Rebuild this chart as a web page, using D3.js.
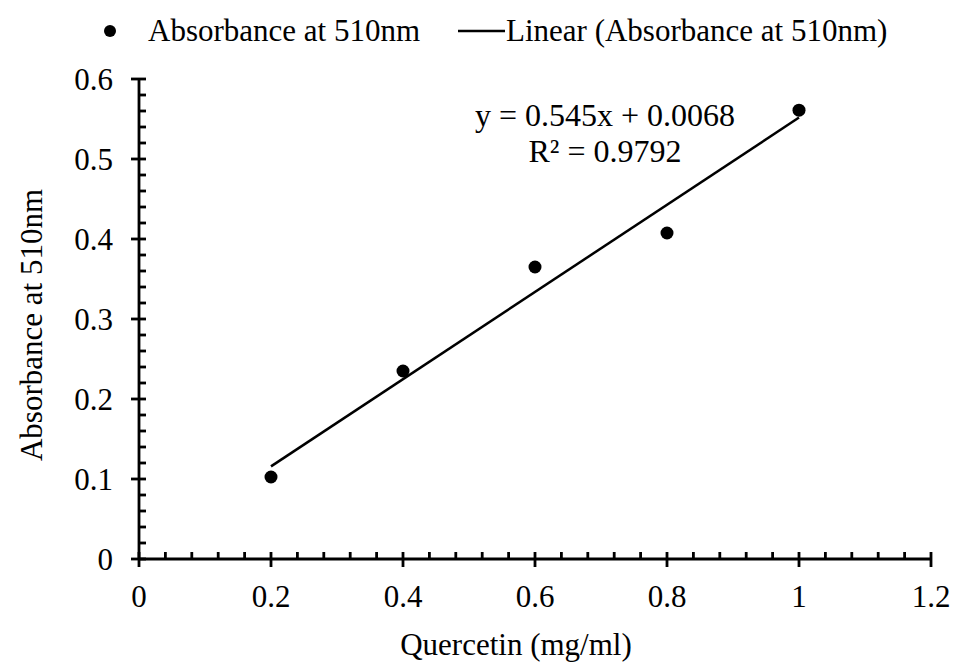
<!DOCTYPE html>
<html>
<head>
<meta charset="utf-8">
<script src="https://cdn.jsdelivr.net/npm/d3@7"></script>
<style>
  body { margin: 0; background: #fff; }
  svg text { font-family: "Liberation Serif", "Times New Roman", serif; fill: #000; }
</style>
</head>
<body>
<div id="chart"></div>
<script>
  const concentration = [0.2, 0.4, 0.6, 0.8, 1.0];
  const absorbance = [0.1025, 0.235, 0.365, 0.4075, 0.561];
  const xTicks = [0, 0.2, 0.4, 0.6, 0.8, 1, 1.2];
  const yTicks = [0, 0.1, 0.2, 0.3, 0.4, 0.5, 0.6];
  const slope = 0.545, intercept = 0.0068;
  const equationLines = ["y = 0.545x + 0.0068", "R² = 0.9792"];

  const width = 957, height = 664;
  const margin = { top: 79, right: 26, bottom: 105, left: 139 };

  const svg = d3.select("#chart").append("svg")
    .attr("width", width)
    .attr("height", height);

  const x = d3.scaleLinear().domain([0, 1.2]).range([margin.left, width - margin.right]);
  const y = d3.scaleLinear().domain([0, 0.6]).range([height - margin.bottom, margin.top]);

  const minorX = d3.range(0, 1.2001, 0.04).filter(v => Math.abs(v * 5 - Math.round(v * 5)) > 1e-6);
  const minorY = d3.range(0, 0.6001, 0.02).filter(v => Math.abs(v * 10 - Math.round(v * 10)) > 1e-6);

  const axisG = svg.append("g").attr("stroke", "#000").attr("stroke-width", 2.8);

  // axis lines
  axisG.append("line")
    .attr("x1", x(0)).attr("x2", x(1.2))
    .attr("y1", y(0)).attr("y2", y(0));
  axisG.append("line")
    .attr("x1", x(0)).attr("x2", x(0))
    .attr("y1", y(0)).attr("y2", y(0.6));

  // major ticks cross the axis, minor ticks point inward
  axisG.selectAll(".xmaj").data(xTicks).join("line")
    .attr("x1", d => x(d)).attr("x2", d => x(d))
    .attr("y1", y(0) - 7).attr("y2", y(0) + 8);
  axisG.selectAll(".xmin").data(minorX).join("line")
    .attr("x1", d => x(d)).attr("x2", d => x(d))
    .attr("y1", y(0) - 7).attr("y2", y(0));
  axisG.selectAll(".ymaj").data(yTicks).join("line")
    .attr("y1", d => y(d)).attr("y2", d => y(d))
    .attr("x1", x(0) - 8).attr("x2", x(0) + 7);
  axisG.selectAll(".ymin").data(minorY).join("line")
    .attr("y1", d => y(d)).attr("y2", d => y(d))
    .attr("x1", x(0)).attr("x2", x(0) + 7);

  // tick labels
  svg.append("g").selectAll("text").data(xTicks).join("text")
    .attr("x", d => x(d))
    .attr("y", y(0) + 48)
    .attr("text-anchor", "middle")
    .style("font-size", "31px")
    .text(d => d3.format("")(d));
  svg.append("g").selectAll("text").data(yTicks).join("text")
    .attr("x", x(0) - 26)
    .attr("y", d => y(d) + 11)
    .attr("text-anchor", "end")
    .style("font-size", "31px")
    .text(d => d3.format("")(d));

  // axis titles
  svg.append("text")
    .attr("x", 516)
    .attr("y", 655)
    .attr("text-anchor", "middle")
    .style("font-size", "31px")
    .text("Quercetin (mg/ml)");
  svg.append("text")
    .attr("transform", "translate(42, 325) rotate(-90)")
    .attr("text-anchor", "middle")
    .style("font-size", "31px")
    .text("Absorbance at 510nm");

  // trendline
  svg.append("line")
    .attr("x1", x(d3.min(concentration))).attr("y1", y(slope * d3.min(concentration) + intercept))
    .attr("x2", x(d3.max(concentration))).attr("y2", y(slope * d3.max(concentration) + intercept))
    .attr("stroke", "#000").attr("stroke-width", 2.5);

  // points
  svg.append("g").selectAll("circle").data(concentration).join("circle")
    .attr("cx", d => x(d))
    .attr("cy", (d, i) => y(absorbance[i]))
    .attr("r", 6.5)
    .attr("fill", "#000");

  // equation
  svg.append("g").selectAll("text").data(equationLines).join("text")
    .attr("x", 605)
    .attr("y", (d, i) => 126 + i * 36)
    .attr("text-anchor", "middle")
    .style("font-size", "32px")
    .text(d => d);

  // legend
  const legend = svg.append("g").style("font-size", "31px");
  legend.append("circle").attr("cx", 110).attr("cy", 31).attr("r", 6).attr("fill", "#000");
  legend.append("text").attr("x", 148).attr("y", 41).text("Absorbance at 510nm");
  legend.append("line").attr("x1", 458).attr("x2", 505).attr("y1", 31).attr("y2", 31)
    .attr("stroke", "#000").attr("stroke-width", 2.5);
  legend.append("text").attr("x", 506).attr("y", 41).text("Linear (Absorbance at 510nm)");
</script>
</body>
</html>
